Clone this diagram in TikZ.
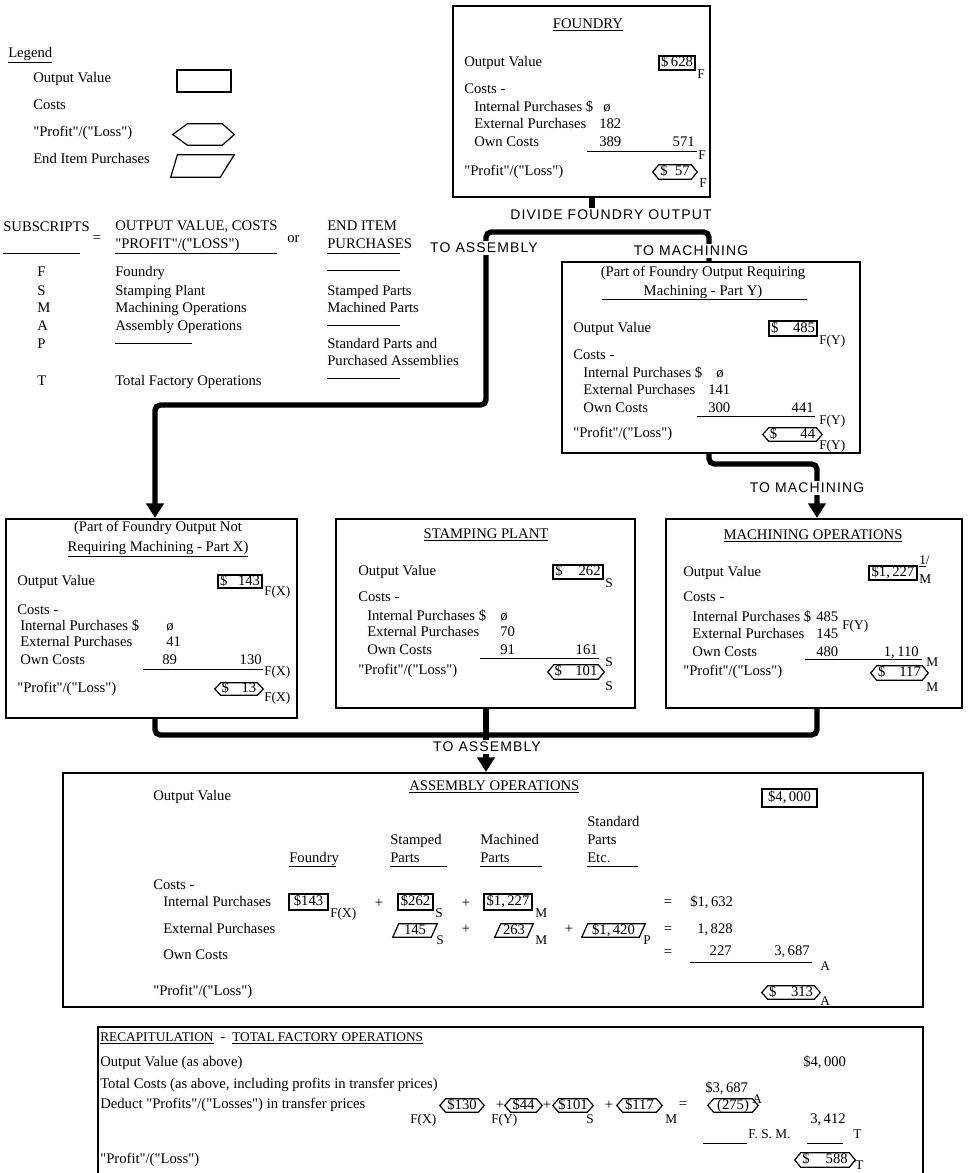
\documentclass[tikz,border=0pt]{standalone}
\usepackage{fontspec}
\setmainfont{Liberation Serif}[Ligatures=TeXOff]
\newfontfamily\sanslbl[LetterSpace=8]{Liberation Sans}
\usetikzlibrary{arrows.meta,fit}
\newcommand\vrect[6]{\node[vbox, fit={(#2,#3) (#4,#5)}] (#1) {}; \node[txtc] (#1t) at (#1.center) {#6};}
\newcommand\vhex[7]{\node[ghost, fit={(#2,#3) (#4,#5)}] (#1) {};
  \draw[thinl] (#1.west) -- ([xshift=#6pt]#1.north west) -- ([xshift=-#6pt]#1.north east) -- (#1.east) -- ([xshift=-#6pt]#1.south east) -- ([xshift=#6pt]#1.south west) -- cycle;
  \node[txtc] (#1t) at (#1.center) {#7};}
\newcommand\vpar[7]{\node[ghost, fit={(#2,#3) (#4,#5)}] (#1) {};
  \draw[thinl] ([xshift=#6pt]#1.north west) -- (#1.north east) -- ([xshift=-#6pt]#1.south east) -- (#1.south west) -- cycle;
  \node[txtc] (#1t) at (#1.center) {#7};}
\newcommand\spr[3]{\makebox[#1pt]{#2\hfill#3}}
\begin{document}
\begin{tikzpicture}[x=0.75pt,y=-0.75pt,
 txt/.style={anchor=west, inner sep=0pt, font=\fontsize{11}{13}\selectfont, text height=7.5pt, text depth=2pt},
 txtc/.style={txt, anchor=center},
 subs/.style={anchor=west, inner sep=0pt, font=\fontsize{10}{12}\selectfont, text height=7pt, text depth=1.5pt},
 boxframe/.style={draw, line width=1.6pt, inner sep=0pt},
 thinl/.style={line width=0.9pt},
 vbox/.style={draw, thinl, inner sep=0pt},
 ghost/.style={inner sep=0pt},
 hline/.style={line width=0.7pt},
 conn/.style={line width=4pt, rounded corners=4pt},
 arr/.style={-{Triangle[width=13pt,length=11pt]}},
 lbl/.style={font=\sanslbl\fontsize{10.5}{12}\selectfont, fill=white, inner sep=1.5pt},
]
\useasboundingbox (0,0) rectangle (969,1173);

% ---------------- Legend
\node[txt] (legT) at (8,54) {\underline{Legend}};
\node[txt] (legOV) at (33,79) {Output Value};
\node[vbox, fit={(177,70) (231,92)}] (legR) {};
\node[txt] (legC) at (33,106) {Costs};
\node[txt] (legP) at (33,133) {"Profit"/("Loss")};
\node[ghost, fit={(173,124) (234,145)}] (legH) {};
\draw[thinl] (legH.west) -- ([xshift=11pt]legH.north west) -- ([xshift=-9pt]legH.north east) -- (legH.east) -- ([xshift=-9pt]legH.south east) -- ([xshift=11pt]legH.south west) -- cycle;
\node[txt] (legE) at (33,160) {End Item Purchases};
\node[ghost, fit={(171,155) (234,177)}] (legPa) {};
\draw[thinl] ([xshift=5pt]legPa.north west) -- (legPa.north east) -- ([xshift=-10.5pt]legPa.south east) -- (legPa.south west) -- cycle;

% ---------------- Subscripts table
\node[txt] (stH1) at (3,228) {SUBSCRIPTS};
\draw[hline] (3,253) -- (80,253);
\node[txtc] (stEq) at (97,239) {=};
\node[txt] (stH2a) at (115,227) {OUTPUT VALUE, COSTS};
\node[txt] (stH2b) at (115,245) {"PROFIT"/("LOSS")};
\draw[hline] (115,253) -- (277,253);
\node[txt] (stOr) at (287,239) {or};
\node[txt] (stH3a) at (327,227) {END ITEM};
\node[txt] (stH3b) at (327,245) {PURCHASES};
\draw[hline] (327,253) -- (400,253);
\node[txt] (stF) at (37,273) {F};
\node[txt] (stS) at (37,292) {S};
\node[txt] (stM) at (37,309) {M};
\node[txt] (stA) at (37,327) {A};
\node[txt] (stP) at (37,345) {P};
\node[txt] (stT) at (37,382) {T};
\node[txt] (stFn) at (115,273) {Foundry};
\node[txt] (stSn) at (115,292) {Stamping Plant};
\node[txt] (stMn) at (115,309) {Machining Operations};
\node[txt] (stAn) at (115,327) {Assembly Operations};
\draw[hline] (115,343) -- (192,343);
\node[txt] (stTn) at (115,382) {Total Factory Operations};
\draw[hline] (327,270) -- (400,270);
\node[txt] (stSe) at (327,292) {Stamped Parts};
\node[txt] (stMe) at (327,309) {Machined Parts};
\draw[hline] (327,325) -- (400,325);
\node[txt] (stPe1) at (327,345) {Standard Parts and};
\node[txt] (stPe2) at (327,362) {Purchased Assemblies};
\draw[hline] (327,378) -- (400,378);

% ---------------- Foundry
\node[boxframe, fit={(453,6) (710,197)}] (foundry) {};
\node[txtc] (fT) at (588,25) {\underline{FOUNDRY}};
\node[txt] (fOV) at (464,63) {Output Value};
\vrect{fOVb}{659}{56}{695}{70}{\spr{24}{\$}{628}}
\node[subs] (fOVs) at (697,75) {F};
\node[txt] (fC) at (464,90) {Costs -};
\node[txt] (fIP) at (474,108) {Internal Purchases \$};
\node[txt] (fIPv) at (603,108) {ø};
\node[txt] (fEP) at (474,125) {External Purchases};
\node[txt] (fEPv) at (599,125) {182};
\node[txt] (fOC) at (474,143) {Own Costs};
\node[txt] (fOCv) at (599,143) {389};
\node[txt, anchor=east] (fTot) at (695,143) {571};
\draw[hline] (587,151) -- (697,151);
\node[subs] (fTots) at (698,156) {F};
\node[txt] (fPL) at (464,172) {"Profit"/("Loss")};
\vhex{fPLh}{653}{165}{697}{179}{4.5}{\spr{22}{\$}{57}}
\node[subs] (fPLs) at (699,184) {F};

% ---------------- Part Y
\node[boxframe, fit={(562,262) (860,453)}] (party) {};
\node[txtc] (yT1) at (703,273) {(Part of Foundry Output Requiring};
\node[txtc] (yT2) at (703,292) {Machining - Part Y)};
\draw[hline] (602,299) -- (807,299);
\node[txt] (yOV) at (573,329) {Output Value};
\vrect{yOVb}{769}{321}{817}{336}{\spr{33}{\$}{485}}
\node[subs] (yOVs) at (819,341) {F(Y)};
\node[txt] (yC) at (573,356) {Costs -};
\node[txt] (yIP) at (583,374) {Internal Purchases \$};
\node[txt] (yIPv) at (716,374) {ø};
\node[txt] (yEP) at (583,391) {External Purchases};
\node[txt] (yEPv) at (708,391) {141};
\node[txt] (yOC) at (583,409) {Own Costs};
\node[txt] (yOCv) at (708,409) {300};
\node[txt, anchor=east] (yTot) at (814,409) {441};
\draw[hline] (697,416) -- (815,416);
\node[subs] (yTots) at (819,421) {F(Y)};
\node[txt] (yPL) at (573,434) {"Profit"/("Loss")};
\vhex{yPLh}{763}{428}{822}{441}{4.5}{\spr{34}{\$}{44}}
\node[subs] (yPLs) at (819,446) {F(Y)};

% ---------------- Part X
\node[boxframe, fit={(6,519) (297,718)}] (partx) {};
\node[txtc] (xT1) at (158,528) {(Part of Foundry Output Not};
\node[txtc] (xT2) at (158,548) {\underline{Requiring Machining - Part X)}};
\node[txt] (xOV) at (17,582) {Output Value};
\vrect{xOVb}{218}{575}{262}{588}{\spr{30}{\$}{143}}
\node[subs] (xOVs) at (264,592) {F(X)};
\node[txt] (xC) at (17,611) {Costs -};
\node[txt] (xIP) at (20,627) {Internal Purchases \$};
\node[txt] (xIPv) at (166,627) {ø};
\node[txt] (xEP) at (20,643) {External Purchases};
\node[txt] (xEPv) at (166,643) {41};
\node[txt] (xOC) at (20,661) {Own Costs};
\node[txt] (xOCv) at (162,661) {89};
\node[txt, anchor=east] (xTot) at (262,661) {130};
\draw[hline] (143,669) -- (263,669);
\node[subs] (xTots) at (264,672) {F(X)};
\node[txt] (xPL) at (17,689) {"Profit"/("Loss")};
\vhex{xPLh}{215}{683}{263}{695}{4.5}{\spr{26}{\$}{13}}
\node[subs] (xPLs) at (264,698) {F(X)};

% ---------------- Stamping plant
\node[boxframe, fit={(336,519) (635,708)}] (stamping) {};
\node[txtc] (sT) at (486,535) {\underline{STAMPING PLANT}};
\node[txt] (sOV) at (358,572) {Output Value};
\vrect{sOVb}{553}{565}{603}{579}{\spr{34}{\$}{262}}
\node[subs] (sOVs) at (605,584) {S};
\node[txt] (sC) at (358,598) {Costs -};
\node[txt] (sIP) at (367,617) {Internal Purchases \$};
\node[txt] (sIPv) at (500,617) {ø};
\node[txt] (sEP) at (367,633) {External Purchases};
\node[txt] (sEPv) at (500,633) {70};
\node[txt] (sOC) at (367,651) {Own Costs};
\node[txt] (sOCv) at (500,651) {91};
\node[txt, anchor=east] (sTot) at (598,651) {161};
\draw[hline] (480,658) -- (599,658);
\node[subs] (sTots) at (605,663) {S};
\node[txt] (sPL) at (358,671) {"Profit"/("Loss")};
\vhex{sPLh}{548}{665}{604}{679}{4.5}{\spr{32}{\$}{101}}
\node[subs] (sPLs) at (605,687) {S};

% ---------------- Machining operations
\node[boxframe, fit={(666,519) (962,708)}] (machining) {};
\node[txtc] (mT) at (813,536) {\underline{MACHINING OPERATIONS}};
\node[txt] (mOV) at (683,573) {Output Value};
\vrect{mOVb}{869}{566}{917}{580}{\$1,\,227}
\node[subs] (mOVs1) at (919,561) {\underline{1}/};
\node[subs] (mOVs2) at (919,580) {M};
\node[txt] (mC) at (683,598) {Costs -};
\node[txt] (mIP) at (692,618) {Internal Purchases \$};
\node[txt] (mIPv) at (816,618) {485};
\node[subs] (mIPs) at (842,626) {F(Y)};
\node[txt] (mEP) at (692,635) {External Purchases};
\node[txt] (mEPv) at (816,635) {145};
\node[txt] (mOC) at (692,653) {Own Costs};
\node[txt] (mOCv) at (816,653) {480};
\node[txt, anchor=east] (mTot) at (919,653) {1,\,110};
\draw[hline] (805,659) -- (922,659);
\node[subs] (mTots) at (926,663) {M};
\node[txt] (mPL) at (683,672) {"Profit"/("Loss")};
\vhex{mPLh}{871}{666}{928}{680}{4.5}{\spr{32}{\$}{117}}
\node[subs] (mPLs) at (926,688) {M};

% ---------------- Assembly operations
\node[boxframe, fit={(63,773) (923,1007)}] (assembly) {};
\node[txt] (aT) at (409,787) {\underline{ASSEMBLY OPERATIONS}};
\node[txt] (aOV) at (153,797) {Output Value};
\vrect{aOVb}{762}{789}{817}{807}{\$4,\,000}
\node[txt] (aH4a) at (587,823) {Standard};
\node[txt] (aH2a) at (390,841) {Stamped};
\node[txt] (aH3a) at (480,841) {Machined};
\node[txt] (aH4b) at (587,841) {Parts};
\node[txt] (aH1) at (289,859) {Foundry};
\node[txt] (aH2b) at (390,859) {Parts};
\node[txt] (aH3b) at (480,859) {Parts};
\node[txt] (aH4c) at (587,859) {Etc.};
\draw[hline] (289,866) -- (336,866);
\draw[hline] (390,866) -- (447,866);
\draw[hline] (480,866) -- (542,866);
\draw[hline] (587,866) -- (638,866);
\node[txt] (aC) at (153,886) {Costs -};
\node[txt] (aIP) at (163,903) {Internal Purchases};
\vrect{aI1}{289}{894}{328}{910}{\$143}
\node[subs] (aI1s) at (330,914) {F(X)};
\node[txtc] (aIp1) at (379,904) {+};
\vrect{aI2}{398}{894}{433}{910}{\$262}
\node[subs] (aI2s) at (435,914) {S};
\node[txtc] (aIp2) at (466,904) {+};
\vrect{aI3}{484}{894}{532}{910}{\$1,\,227}
\node[subs] (aI3s) at (535,914) {M};
\node[txtc] (aIeq) at (668,903) {=};
\node[txt] (aIv) at (690,903) {\$1,\,632};
\node[txt] (aEP) at (163,930) {External Purchases};
\vpar{aE1}{393}{924}{437}{937}{4.5}{145}
\node[subs] (aE1s) at (436,941) {S};
\node[txtc] (aEp1) at (466,930) {+};
\vpar{aE2}{495}{924}{533}{937}{4.5}{263}
\node[subs] (aE2s) at (535,941) {M};
\node[txtc] (aEp2) at (569,930) {+};
\vpar{aE3}{582}{924}{645}{937}{4.5}{\$1,\,420}
\node[subs] (aE3s) at (643,941) {P};
\node[txtc] (aEeq) at (668,930) {=};
\node[txt] (aEv) at (697,930) {1,\,828};
\node[txt] (aOC) at (163,956) {Own Costs};
\node[txtc] (aOeq) at (668,953) {=};
\node[txt, anchor=east] (aOv) at (732,952) {227};
\node[txt, anchor=east] (aTot) at (810,952) {3,\,687};
\draw[hline] (690,962) -- (812,962);
\node[subs] (aTots) at (820,967) {A};
\node[txt] (aPL) at (153,992) {"Profit"/("Loss")};
\vhex{aPLh}{762}{986}{820}{999}{4.5}{\spr{33}{\$}{313}}
\node[subs] (aPLs) at (820,1002) {A};

% ---------------- Recapitulation
\node[ghost, fit={(98,1027) (923,1185)}] (recap) {};
\draw[boxframe] (recap.south west) -- (recap.north west) -- (recap.north east) -- (recap.south east);
\node[txt, font=\fontsize{10}{12}\selectfont] (rT1) at (100,1038) {\underline{RECAPITULATION}};
\node[txt] (rT2) at (220,1038) {-};
\node[txt, font=\fontsize{10}{12}\selectfont] (rT3) at (232,1038) {\underline{TOTAL FACTORY OPERATIONS}};
\node[txt] (rOV) at (100,1063) {Output Value (as above)};
\node[txt] (rOVv) at (803,1063) {\$4,\,000};
\node[txt] (rTC) at (100,1085) {Total Costs (as above, including profits in transfer prices)};
\node[txt] (rTCv) at (705,1089) {\$3,\,687};
\node[subs] (rTCs) at (752,1100) {A};
\node[txt] (rDD) at (100,1105) {Deduct "Profits"/("Losses") in transfer prices};
\vhex{rH1}{440}{1099}{484}{1112}{4.5}{\$130}
\node[subs] (rH1s) at (410,1120) {F(X)};
\node[txtc] (rp1) at (500,1106) {+};
\vhex{rH2}{505}{1099}{542}{1112}{4.5}{\$44}
\node[subs] (rH2s) at (491,1120) {F(Y)};
\node[txtc] (rp2) at (547,1106) {+};
\vhex{rH3}{553}{1099}{593}{1112}{4.5}{\$101}
\node[subs] (rH3s) at (586,1120) {S};
\node[txtc] (rp3) at (609,1106) {+};
\vhex{rH4}{617}{1099}{662}{1112}{4.5}{\$117}
\node[subs] (rH4s) at (665,1120) {M};
\node[txtc] (req) at (683,1105) {=};
\vhex{rH5}{708}{1099}{758}{1112}{4.5}{(275)}
\draw[hline] (703,1143) -- (747,1143);
\node[subs] (rFSM) at (748,1135) {F. S. M.};
\node[txt] (rNet) at (810,1120) {3,\,412};
\node[subs] (rNets) at (853,1135) {T};
\draw[hline] (807,1143) -- (843,1143);
\node[txt] (rPL) at (100,1160) {"Profit"/("Loss")};
\vhex{rH6}{795}{1153}{855}{1167}{4.5}{\spr{34}{\$}{588}}
\node[subs] (rH6s) at (855,1166) {T};

% ---------------- Connectors
\coordinate (stub) at (592,208);
\coordinate (bL) at (486,232);
\coordinate (bR) at (709,232);
\coordinate (aL1) at (486,405);
\coordinate (aL2) at (155,405);
\draw[conn] (foundry.south -| stub) -- (stub);
\draw[conn, arr] (party.north -| bR) -- (bR) -- (bL) -- (aL1) -- (aL2) -- (partx.north -| aL2);
\coordinate (pY1) at (709,464);
\coordinate (pY2) at (817,464);
\draw[conn, arr] (party.south -| pY1) -- (pY1) -- (pY2) -- (machining.north -| pY2);
\coordinate (b1) at (155,735);
\coordinate (b2) at (486,735);
\coordinate (b3) at (817,735);
\draw[conn] (partx.south -| b1) -- (b1) -- (b3) -- (machining.south -| b3);
\draw[conn] (stamping.south -| b2) -- (b2);
\draw[conn, arr] (b2) -- (assembly.north -| b2);

\node[lbl] (lDiv) at (611,215) {DIVIDE FOUNDRY OUTPUT};
\node[lbl] (lAsm1) at (484,248) {TO ASSEMBLY};
\node[lbl] (lMac1) at (691,251) {TO MACHINING};
\node[lbl] (lMac2) at (807,488) {TO MACHINING};
\node[lbl] (lAsm2) at (487,747) {TO ASSEMBLY};
\end{tikzpicture}
\end{document}
